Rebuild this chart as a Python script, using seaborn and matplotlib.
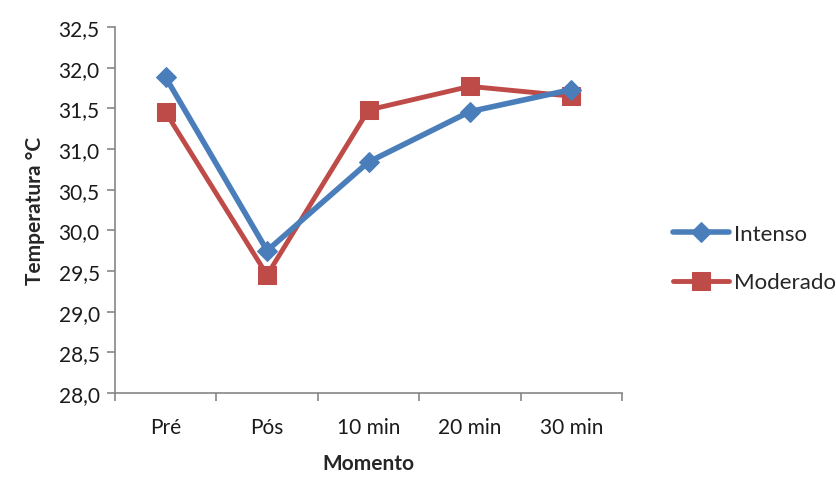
import matplotlib
matplotlib.use("Agg")
import matplotlib.pyplot as plt
import seaborn as sns
import pandas as pd
from matplotlib.ticker import FuncFormatter

categories = ["Pré", "Pós", "10 min", "20 min", "30 min"]
intenso = [31.88, 29.75, 30.84, 31.46, 31.73]
moderado = [31.45, 29.45, 31.48, 31.77, 31.65]
series_names = ["Intenso", "Moderado"]

df = pd.DataFrame({
    "Momento": categories * 2,
    "Temperatura": intenso + moderado,
    "Grupo": [series_names[0]] * len(categories) + [series_names[1]] * len(categories),
})

sns.set_theme(style="white")
plt.rcParams["font.family"] = ["Lato", "DejaVu Sans"]

fig = plt.figure(figsize=(8.36, 4.81), dpi=100)
ax = fig.add_axes([115/836, 1-394/481, (622-115)/836, (394-28)/481])

colors = {"Intenso": "#4A7EBB", "Moderado": "#BE4B48"}
markers = {"Intenso": "D", "Moderado": "s"}
sizes = {"Intenso": 10, "Moderado": 13}
widths = {"Intenso": 4.0, "Moderado": 3.5}

for name in series_names:
    sub = df[df["Grupo"] == name]
    sns.lineplot(data=sub, x="Momento", y="Temperatura", ax=ax, sort=False,
                 color=colors[name], marker=markers[name], markersize=sizes[name],
                 markeredgecolor=colors[name], linewidth=widths[name], label=name,
                 zorder=3 if name == "Intenso" else 2)

ax.set_xlim(-0.5, len(categories) - 0.5)
ax.set_ylim(28.0, 32.5)
ax.set_yticks([28.0 + 0.5 * i for i in range(10)])
ax.yaxis.set_major_formatter(FuncFormatter(lambda v, p: f"{v:.1f}".replace(".", ",")))
ax.set_xticks(range(len(categories)))
ax.set_xticklabels(categories)
ax.set_xticks([i - 0.5 for i in range(len(categories) + 1)], minor=True)

for s in ["top", "right"]:
    ax.spines[s].set_visible(False)
for s in ["left", "bottom"]:
    ax.spines[s].set_color("#868686")
    ax.spines[s].set_linewidth(1.2)

fs = 15
ax.tick_params(axis="y", which="major", direction="out", length=6, width=1.2,
               color="#868686", labelsize=fs, labelcolor="#1a1a1a", pad=5, left=True)
ax.tick_params(axis="x", which="major", length=0, labelsize=fs, labelcolor="#1a1a1a", pad=17)
ax.tick_params(axis="x", which="minor", direction="out", length=6, width=1.2,
               color="#868686", bottom=True)

ax.set_xlabel("Momento", fontsize=fs, fontweight="bold", labelpad=12)
ax.set_ylabel("Temperatura °C", fontsize=fs, fontweight="bold", labelpad=10)

leg = ax.legend(loc="center left", bbox_to_anchor=(653/836, 1-259/481),
                bbox_transform=fig.transFigure, frameon=False, fontsize=16,
                handlelength=2.5, handletextpad=0.25, labelspacing=1.3)

fig.savefig("out.png", dpi=100)
